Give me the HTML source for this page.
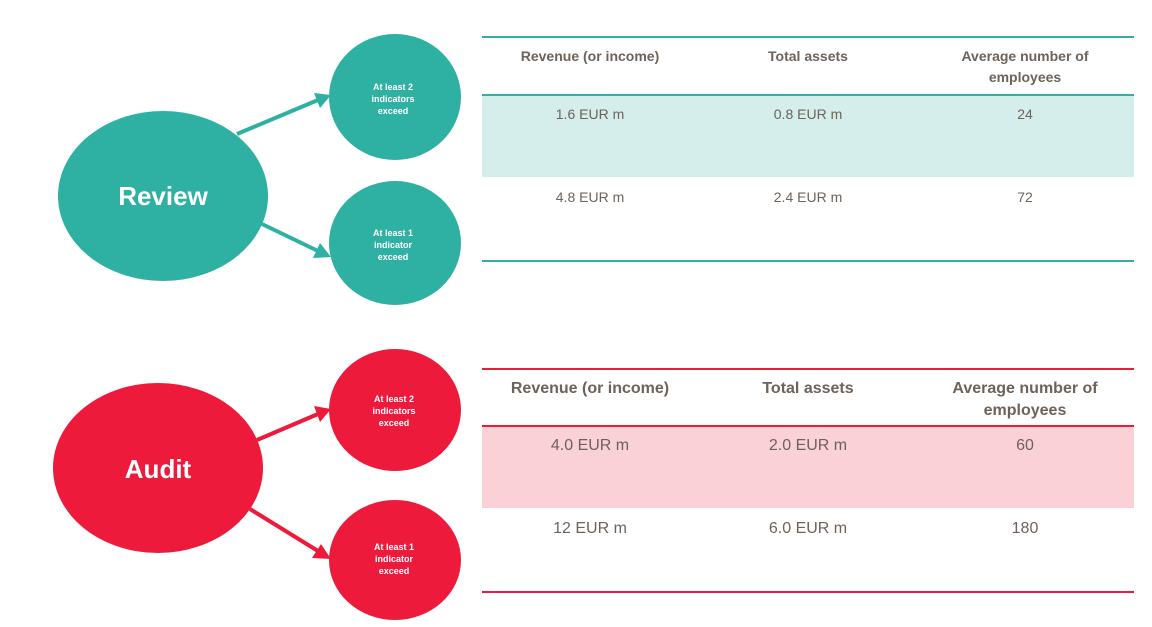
<!DOCTYPE html>
<html><head><meta charset="utf-8"><style>
body{margin:0;background:#fff;width:1152px;height:627px;overflow:hidden}
svg{display:block;font-family:"Liberation Sans",sans-serif}
</style></head><body>
<svg width="1152" height="627" viewBox="0 0 1152 627">
<defs>
<marker id="at" markerWidth="8" markerHeight="8" refX="6" refY="4" orient="auto" markerUnits="userSpaceOnUse"><path d="M0,0 L14,4 L0,8 Z" fill="#2EB0A3" transform="scale(0.6,1)"/></marker>
</defs>
<g id="review">
<line x1="237" y1="134" x2="318" y2="100" stroke="#2EB0A3" stroke-width="4"/>
<polygon points="331,95 314,93 320,108" fill="#2EB0A3"/>
<line x1="262" y1="224" x2="318" y2="251" stroke="#2EB0A3" stroke-width="4"/>
<polygon points="331,257 320,243 313,258" fill="#2EB0A3"/>
<ellipse cx="163" cy="196" rx="105" ry="85" fill="#2EB0A3"/>
<text x="163" y="205" fill="#fff" font-size="26" font-weight="bold" text-anchor="middle">Review</text>
<ellipse cx="395" cy="97" rx="66" ry="63" fill="#2EB0A3"/>
<text fill="#fff" font-size="9" font-weight="bold" text-anchor="middle"><tspan x="393" y="90">At least 2</tspan><tspan x="393" y="102">indicators</tspan><tspan x="393" y="114">exceed</tspan></text>
<ellipse cx="395" cy="243" rx="66" ry="62" fill="#2EB0A3"/>
<text fill="#fff" font-size="9" font-weight="bold" text-anchor="middle"><tspan x="393" y="236">At least 1</tspan><tspan x="393" y="248">indicator</tspan><tspan x="393" y="260">exceed</tspan></text>

<rect x="482" y="95" width="652" height="82" fill="#D5EEEB"/>
<line x1="482" y1="37" x2="1134" y2="37" stroke="#2EB0A3" stroke-width="2"/>
<line x1="482" y1="95" x2="1134" y2="95" stroke="#2EB0A3" stroke-width="2"/>
<line x1="482" y1="261" x2="1134" y2="261" stroke="#2EB0A3" stroke-width="2"/>
<g fill="#6E625A" font-size="14" text-anchor="middle">
<text x="590" y="61" font-weight="bold">Revenue (or income)</text>
<text x="808" y="61" font-weight="bold">Total assets</text>
<text x="1025" y="61" font-weight="bold">Average number of</text>
<text x="1025" y="82" font-weight="bold">employees</text>
<text x="590" y="119">1.6 EUR m</text>
<text x="808" y="119">0.8 EUR m</text>
<text x="1025" y="119">24</text>
<text x="590" y="202">4.8 EUR m</text>
<text x="808" y="202">2.4 EUR m</text>
<text x="1025" y="202">72</text>
</g>
</g>

<g id="audit">
<line x1="257" y1="440" x2="318" y2="414" stroke="#EE1A3C" stroke-width="4"/>
<polygon points="331,409 314,406 320,422" fill="#EE1A3C"/>
<line x1="250" y1="509" x2="318" y2="551" stroke="#EE1A3C" stroke-width="4"/>
<polygon points="331,559 321,544 312,558" fill="#EE1A3C"/>
<ellipse cx="158" cy="468" rx="105" ry="85" fill="#EE1A3C"/>
<text x="158" y="478" fill="#fff" font-size="26" font-weight="bold" text-anchor="middle">Audit</text>
<ellipse cx="395" cy="410" rx="66" ry="61" fill="#EE1A3C"/>
<text fill="#fff" font-size="9" font-weight="bold" text-anchor="middle"><tspan x="394" y="402">At least 2</tspan><tspan x="394" y="414">indicators</tspan><tspan x="394" y="426">exceed</tspan></text>
<ellipse cx="395" cy="560" rx="66" ry="60" fill="#EE1A3C"/>
<text fill="#fff" font-size="9" font-weight="bold" text-anchor="middle"><tspan x="394" y="550">At least 1</tspan><tspan x="394" y="562">indicator</tspan><tspan x="394" y="574">exceed</tspan></text>

<rect x="482" y="426" width="652" height="82" fill="#F9D1D7"/>
<line x1="482" y1="369" x2="1134" y2="369" stroke="#EE1A3C" stroke-width="2"/>
<line x1="482" y1="426" x2="1134" y2="426" stroke="#EE1A3C" stroke-width="2"/>
<line x1="482" y1="592" x2="1134" y2="592" stroke="#EE1A3C" stroke-width="2"/>
<g fill="#6E625A" font-size="16" text-anchor="middle">
<text x="590" y="393" font-weight="bold">Revenue (or income)</text>
<text x="808" y="393" font-weight="bold">Total assets</text>
<text x="1025" y="393" font-weight="bold">Average number of</text>
<text x="1025" y="415" font-weight="bold">employees</text>
<text x="590" y="450">4.0 EUR m</text>
<text x="808" y="450">2.0 EUR m</text>
<text x="1025" y="450">60</text>
<text x="590" y="533">12 EUR m</text>
<text x="808" y="533">6.0 EUR m</text>
<text x="1025" y="533">180</text>
</g>
</g>
</svg>
</body></html>
